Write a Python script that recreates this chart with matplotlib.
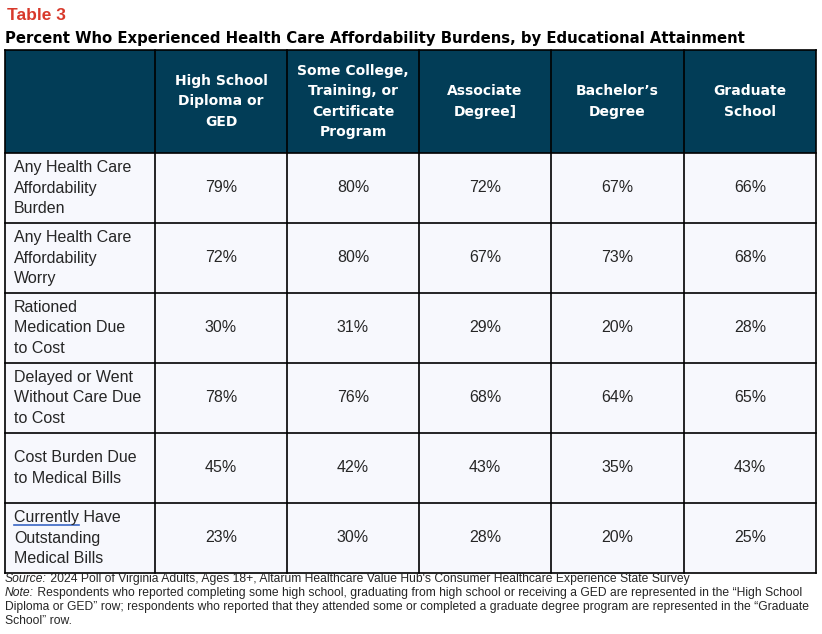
import matplotlib.pyplot as plt
from matplotlib.patches import Rectangle

title = "Table 3"
subtitle = "Percent Who Experienced Health Care Affordability Burdens, by Educational Attainment"
columns = ["High School\nDiploma or\nGED", "Some College,\nTraining, or\nCertificate\nProgram",
           "Associate\nDegree]", "Bachelor\u2019s\nDegree", "Graduate\nSchool"]
rows = ["Any Health Care\nAffordability\nBurden", "Any Health Care\nAffordability\nWorry",
        "Rationed\nMedication Due\nto Cost", "Delayed or Went\nWithout Care Due\nto Cost",
        "Cost Burden Due\nto Medical Bills", "Currently Have\nOutstanding\nMedical Bills"]
values = [[79, 80, 72, 67, 66],
          [72, 80, 67, 73, 68],
          [30, 31, 29, 20, 28],
          [78, 76, 68, 64, 65],
          [45, 42, 43, 35, 43],
          [23, 30, 28, 20, 25]]
source = "2024 Poll of Virginia Adults, Ages 18+, Altarum Healthcare Value Hub's Consumer Healthcare Experience State Survey"
note = ["Respondents who reported completing some high school, graduating from high school or receiving a GED are represented in the \u201cHigh School",
        "Diploma or GED\u201d row; respondents who reported that they attended some or completed a graduate degree program are represented in the \u201cGraduate",
        "School\u201d row."]

navy = "#023d57"
cell_bg = "#f7f8fd"
red = "#d8392b"
ink = "#262626"
head_font = ["DejaVu Sans"]
body_font = ["Liberation Sans", "DejaVu Sans"]
narrow_font = ["Liberation Sans Narrow", "Liberation Sans", "DejaVu Sans"]

W, H = 822, 634
fig = plt.figure(figsize=(W / 100, H / 100), dpi=100)
ax = fig.add_axes([0, 0, 1, 1])
ax.set_xlim(0, W)
ax.set_ylim(H, 0)
ax.axis("off")

# table grid in pixels
col_x = [5, 155, 287, 419, 551, 684, 816]
head_top, head_bot = 50, 153
row_h = 70

ax.text(7, 16, title, color=red, fontsize=12.5, fontweight="bold", family=body_font, va="center")
ax.text(5, 39, subtitle, color="black", fontsize=10.7, fontweight="bold", family=head_font, va="center")

# header
ax.add_patch(Rectangle((col_x[0], head_top), col_x[-1] - col_x[0], head_bot - head_top,
                       facecolor=navy, edgecolor="none"))
for j, c in enumerate(columns):
    xc = (col_x[j + 1] + col_x[j + 2]) / 2
    ax.text(xc, (head_top + head_bot) / 2, c, color="white", fontsize=10, fontweight="bold",
            family=head_font, ha="center", va="center", linespacing=1.57, multialignment="center")

# body
body_top = head_bot
body_bot = body_top + row_h * len(rows)
ax.add_patch(Rectangle((col_x[0], body_top), col_x[-1] - col_x[0], body_bot - body_top,
                       facecolor=cell_bg, edgecolor="none"))
for i, r in enumerate(rows):
    yc = body_top + row_h * i + row_h / 2
    ax.text(14, yc, r, color=ink, fontsize=11.5, family=body_font, va="center", linespacing=1.44)
    for j, v in enumerate(values[i]):
        xc = (col_x[j + 1] + col_x[j + 2]) / 2
        ax.text(xc, yc, f"{v}%", color=ink, fontsize=11.5, family=body_font,
                ha="center", va="center")

# grid lines
for x in col_x:
    ax.plot([x, x], [head_top, body_bot], color="black", lw=1.2)
for k in range(len(rows) + 1):
    y = body_top + row_h * k
    ax.plot([col_x[0], col_x[-1]], [y, y], color="black", lw=1.2)
ax.plot([col_x[0], col_x[-1]], [head_top, head_top], color="black", lw=1.2)

fig.canvas.draw()
renderer = fig.canvas.get_renderer()


def text_width(s, **kw):
    tmp = ax.text(0, 0, s, **kw)
    w = tmp.get_window_extent(renderer).width
    tmp.remove()
    return w


# blue underline under "Currently"
w_cur = text_width("Currently", fontsize=11.5, family=body_font)
y_ul = body_top + row_h * 5 + row_h / 2 - 20.5 + 7.5
ax.plot([14, 14 + w_cur], [y_ul, y_ul], color="#3a66c4", lw=1.2)

# footnotes
fs = 8.7
fy = 579
w_src = text_width("Source:", fontsize=fs, style="italic", family=narrow_font)
w_note = text_width("Note:", fontsize=fs, style="italic", family=narrow_font)
ax.text(5, fy, "Source:", fontsize=fs, style="italic", family=narrow_font, va="center", color=ink)
ax.text(5 + w_src, fy, " " + source, fontsize=fs, family=narrow_font, va="center", color=ink)
ax.text(5, fy + 14, "Note:", fontsize=fs, style="italic", family=narrow_font, va="center", color=ink)
ax.text(5 + w_note, fy + 14, " " + note[0], fontsize=fs, family=narrow_font, va="center", color=ink)
ax.text(5, fy + 28, note[1], fontsize=fs, family=narrow_font, va="center", color=ink)
ax.text(5, fy + 42, note[2], fontsize=fs, family=narrow_font, va="center", color=ink)

fig.savefig("out.png", dpi=100, facecolor="white")
